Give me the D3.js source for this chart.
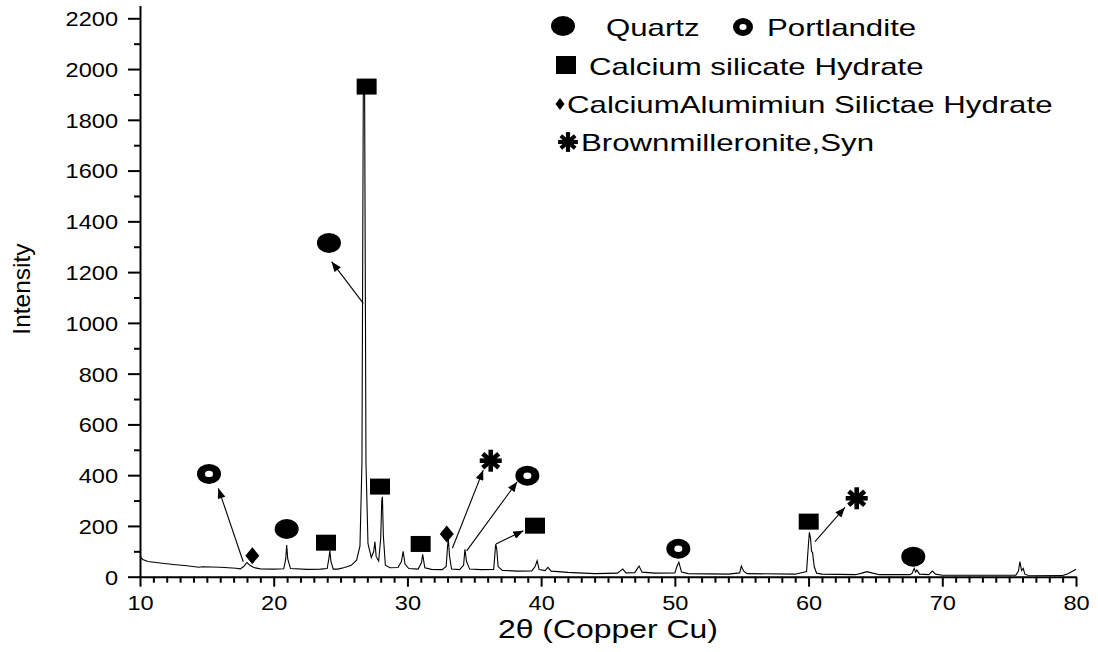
<!DOCTYPE html>
<html>
<head>
<meta charset="utf-8">
<script src="https://cdn.jsdelivr.net/npm/d3@7"></script>
<style>
  html, body { margin: 0; padding: 0; background: #fff; }
  svg { display: block; }
  text { font-family: "Liberation Sans", Arial, sans-serif; fill: #000; }
</style>
</head>
<body>
<svg id="chart" width="1098" height="652"></svg>
<script>
// ---------------- data ----------------
const twoTheta = [10.0,10.2,10.6,11.5,12.5,13.5,14.4,14.7,16.0,17.2,17.5,17.75,18.0,18.2,18.5,19.0,20.0,20.75,20.9,20.97,21.05,21.25,22.5,23.5,24.0,24.12,24.2,24.28,24.45,24.8,25.3,25.8,26.2,26.45,26.6,26.7,26.8,26.9,27.05,27.3,27.48,27.57,27.66,27.85,28.0,28.08,28.13,28.2,28.35,28.7,29.3,29.55,29.68,29.82,30.1,30.8,31.05,31.14,31.3,31.8,32.6,32.9,33.0,33.06,33.15,33.3,33.9,34.2,34.3,34.42,34.65,35.5,36.45,36.55,36.6,36.68,36.78,37.1,38.2,39.3,39.55,39.7,39.85,40.3,40.5,40.75,42,44,45.7,45.95,46.1,46.35,47.0,47.2,47.32,47.55,48.5,50.0,50.15,50.3,50.5,51.0,54.0,54.85,54.97,55.15,55.4,59.0,59.85,59.98,60.06,60.15,60.22,60.3,60.42,60.6,61.0,63.5,64.0,64.35,64.8,65.3,67.6,67.75,67.9,68.0,68.1,68.3,69.0,69.25,69.5,70,75.5,75.7,75.8,75.93,76.05,76.18,76.4,79.0,79.4,80];
const intensity = [80,68,60,54,48,43,37,39,37,33,31,40,56,46,36,31,30,31,70,125,70,32,29,30,32,70,102,60,30,30,36,45,65,120,450,1900,1900,450,130,75,100,138,80,62,150,300,315,160,45,35,36,60,100,50,32,30,55,88,35,29,28,40,120,148,80,30,28,45,108,60,30,28,29,95,128,110,40,25,22,23,40,63,28,24,37,22,17,12,14,24,30,15,16,32,42,18,14,15,40,57,18,12,10,15,42,22,12,10,20,120,175,150,100,95,40,14,10,8,14,20,14,8,8,14,33,18,26,10,8,22,10,6,6,22,59,25,33,10,6,5,12,29];

const xTicks = [10,20,30,40,50,60,70,80];
const yTicks = [0,200,400,600,800,1000,1200,1400,1600,1800,2000,2200];

// phase markers (2θ, intensity)
const quartzX = [20.97, 24.13, 67.83];
const quartzY = [188, 1315, 79];
const portlanditeX = [15.16, 38.97, 50.26];
const portlanditeY = [405, 398, 110];
const cshX = [23.91, 26.95, 27.95, 30.99, 39.54, 60.01];
const cshY = [134, 1931, 355, 129, 201, 217];
const cashX = [18.40, 32.94];
const cashY = [83, 168];
const brownX = [36.23, 63.60];
const brownY = [457, 309];

// annotation arrows (from peak to label)
const arrowFromX = [17.72, 26.70, 33.36, 34.43, 36.62, 60.48];
const arrowFromY = [59, 1077, 112, 102, 129, 138];
const arrowToX = [15.86, 24.33, 35.67, 38.21, 38.67, 62.72];
const arrowToY = [348, 1241, 420, 374, 181, 273];

const legendLabels = ["Quartz", "Portlandite", "Calcium silicate Hydrate",
  "CalciumAlumimiun Silictae Hydrate", "Brownmilleronite,Syn"];
const xTitle = "2\u03B8 (Copper Cu)";
const yTitle = "Intensity";

// ---------------- layout ----------------
const svg = d3.select("#chart");
const x = d3.scaleLinear().domain([10, 80]).range([140, 1076]);
const y = d3.scaleLinear().domain([0, 2250]).range([576.7, 5.6]);

const defs = svg.append("defs");
defs.append("marker")
  .attr("id", "arrow")
  .attr("viewBox", "0 0 10 8")
  .attr("refX", 10).attr("refY", 4)
  .attr("markerWidth", 11).attr("markerHeight", 8)
  .attr("markerUnits", "userSpaceOnUse")
  .attr("orient", "auto")
  .append("path").attr("d", "M0,0 L10,4 L0,8 Z").attr("fill", "#000");

// ---------------- axes ----------------
const TS = 1.15; // horizontal stretch of tick labels
const gx = svg.append("g").attr("transform", `translate(0,${y(0)})`);
gx.call(d3.axisBottom(x).tickValues(d3.range(10, 81, 1).filter(v => v % 10 !== 0))
  .tickSize(6).tickFormat(""));
gx.call(g => g.selectAll(".domain").remove());
const gxMajor = svg.append("g").attr("transform", `translate(0,${y(0)})`)
  .call(d3.axisBottom(x).tickValues(xTicks).tickSize(10).tickSizeOuter(0).tickFormat(d3.format("d")));
gxMajor.selectAll("text")
  .attr("y", 19).attr("dy", "0.71em")
  .attr("transform", `scale(${TS},1)`)
  .style("font-size", "20.5px");

const gyMinor = svg.append("g").attr("transform", `translate(${x(10)},0)`)
  .call(d3.axisLeft(y).tickValues(d3.range(100, 2250, 200)).tickSize(6).tickFormat(""));
gyMinor.selectAll(".domain").remove();
const gy = svg.append("g").attr("transform", `translate(${x(10)},0)`)
  .call(d3.axisLeft(y).tickValues(yTicks).tickSize(12).tickSizeOuter(0).tickFormat(d3.format("d")));
gy.selectAll("text")
  .attr("x", -22 / TS).attr("dy", "0.36em")
  .attr("transform", `scale(${TS},1)`)
  .style("font-size", "20.5px");

svg.selectAll(".tick line").attr("stroke", "#000").attr("stroke-width", 2);
svg.selectAll(".domain").attr("stroke", "#000").attr("stroke-width", 2);
svg.selectAll(".tick text").attr("fill", "#000").attr("font-family", "Liberation Sans, Arial, sans-serif");

// axis titles
svg.append("text").attr("x", 498).attr("y", 638)
  .attr("textLength", 220).attr("lengthAdjust", "spacingAndGlyphs")
  .style("font-size", "25px").text(xTitle);
svg.append("text").attr("transform", `translate(30,289) rotate(-90)`)
  .attr("text-anchor", "middle")
  .style("font-size", "24.5px").text(yTitle);

// ---------------- spectrum ----------------
const pts = twoTheta.map((t, i) => [t, intensity[i]]);
svg.append("path").datum(pts)
  .attr("fill", "none").attr("stroke", "#000").attr("stroke-width", 1.1)
  .attr("d", d3.line().x(d => x(d[0])).y(d => y(d[1])));

// ---------------- symbols ----------------
function ellipsePath(rx, ry) {
  return `M${-rx},0 A${rx},${ry} 0 1,0 ${rx},0 A${rx},${ry} 0 1,0 ${-rx},0 Z`;
}
const shapes = {
  quartz: ellipsePath(12, 10),
  portlandite: ellipsePath(12, 10) + " " + ellipsePath(4, 3.2),
  csh: "M-10,-8 H10 V8 H-10 Z",
  cash: "M0,-8.5 L7,0 L0,8.5 L-7,0 Z",
};
function asterisk(g, s) {
  const arms = [[0, -11, 0, 11], [-11, 0, 11, 0], [-8, -7, 8, 7], [-8, 7, 8, -7]];
  arms.forEach(a => g.append("line")
    .attr("x1", a[0] * s).attr("y1", a[1] * s).attr("x2", a[2] * s).attr("y2", a[3] * s)
    .attr("stroke", "#000").attr("stroke-width", 4.6 * s));
}

function drawSet(xs, ys, key) {
  xs.forEach((v, i) => {
    const g = svg.append("g").attr("transform", `translate(${x(v)},${y(ys[i])})`);
    if (key === "brown") asterisk(g, 1);
    else g.append("path").attr("d", shapes[key]).attr("fill", "#000").attr("fill-rule", "evenodd");
  });
}
drawSet(quartzX, quartzY, "quartz");
drawSet(portlanditeX, portlanditeY, "portlandite");
drawSet(cshX, cshY, "csh");
drawSet(cashX, cashY, "cash");
drawSet(brownX, brownY, "brown");

// arrows
arrowFromX.forEach((v, i) => {
  svg.append("line")
    .attr("x1", x(v)).attr("y1", y(arrowFromY[i]))
    .attr("x2", x(arrowToX[i])).attr("y2", y(arrowToY[i]))
    .attr("stroke", "#000").attr("stroke-width", 1.1)
    .attr("marker-end", "url(#arrow)");
});

// ---------------- legend ----------------
const LS = 1.3;
function legendText(tx, ty, label) {
  const t = svg.append("text").attr("x", tx).attr("y", ty).style("font-size", "24px").text(label);
  const w = t.node().getComputedTextLength();
  t.attr("textLength", w * LS).attr("lengthAdjust", "spacingAndGlyphs");
}
const lg = svg.append("g");
lg.append("path").attr("d", shapes.quartz).attr("transform", "translate(563,26)");
legendText(606, 36, legendLabels[0]);
lg.append("path").attr("d", ellipsePath(10, 9) + " " + ellipsePath(3.6, 3)).attr("fill-rule", "evenodd")
  .attr("transform", "translate(743,27)");
legendText(767, 36, legendLabels[1]);
lg.append("path").attr("d", "M-10,-9 H10 V9 H-10 Z").attr("transform", "translate(566,65)");
legendText(589, 75, legendLabels[2]);
lg.append("path").attr("d", "M0,-6 L4.5,0 L0,6 L-4.5,0 Z").attr("transform", "translate(560,104)");
legendText(567, 113, legendLabels[3]);
asterisk(lg.append("g").attr("transform", "translate(568,142)"), 0.9);
legendText(581, 151, legendLabels[4]);
lg.selectAll("path").attr("fill", "#000");
</script>
</body>
</html>
